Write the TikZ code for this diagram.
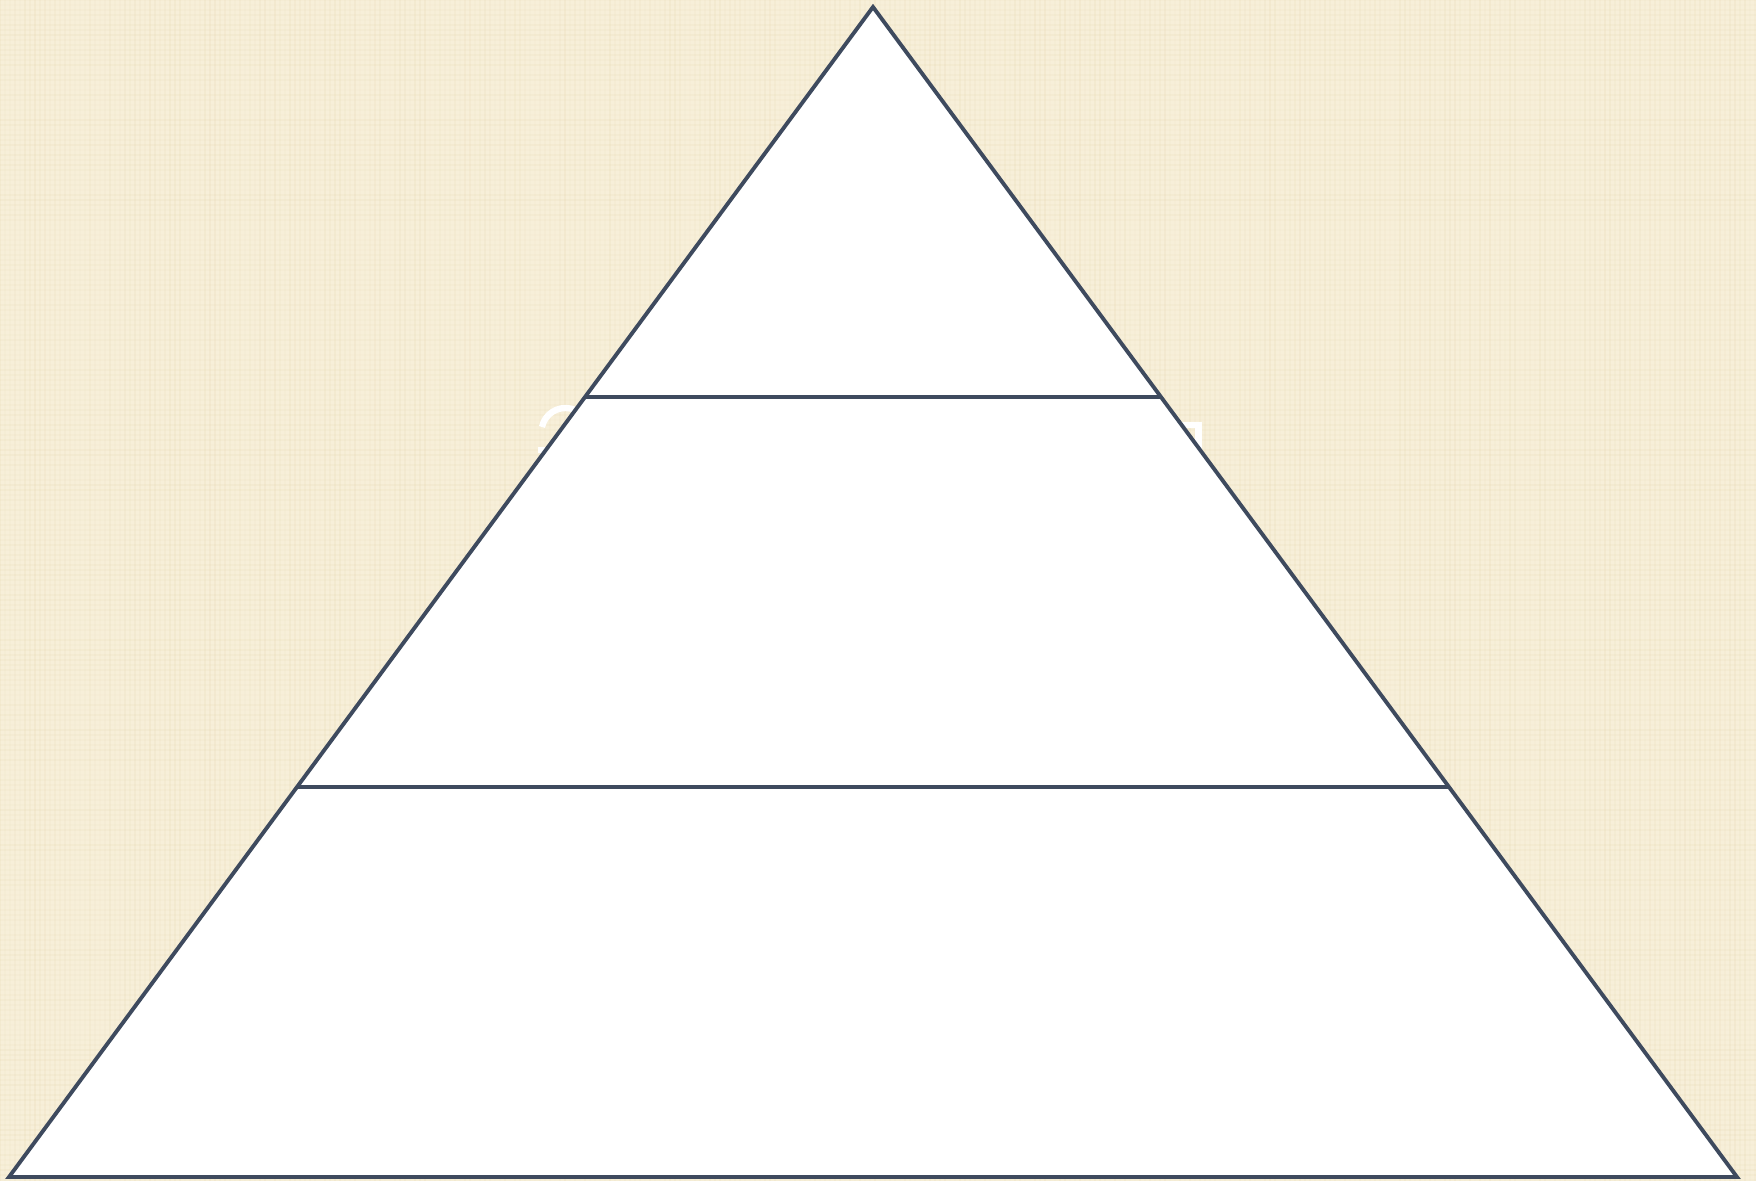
\documentclass[tikz,border=0pt]{standalone}
\usepackage{xcolor}
\usepackage{tikz}
\usetikzlibrary{calc}

\definecolor{paper}{RGB}{247,239,217}
\definecolor{weave}{RGB}{226,210,165}
\definecolor{edge}{RGB}{62,74,94}

\begin{document}
\begin{tikzpicture}[
    x=0.01cm, y=-0.01cm,
    tier/.style={draw=edge, line width=1.1pt, fill=white, line join=miter},
    divider/.style={draw=edge, line width=1.1pt},
    ghost/.style={draw=white, line width=1.8pt},
    thread/.style={draw=weave, line width=0.6pt}
]
\useasboundingbox (0,0) rectangle (1756,1181);
\fill[paper] (0,0) rectangle (1756,1181);

% linen texture
\pgfmathsetseed{7}
\foreach \i in {0,5,...,1755} {
  \pgfmathsetmacro{\op}{0.04+0.14*rnd}
  \draw[thread, opacity=\op] (\i,0) -- (\i,1181);
}
\foreach \j in {0,5,...,1180} {
  \pgfmathsetmacro{\op}{0.03+0.12*rnd}
  \draw[thread, opacity=\op] (0,\j) -- (1756,\j);
}

% white fragments peeking out behind the pyramid
\draw[ghost] (542,427) arc[start angle=-168, end angle=-20, radius=24];
\draw[ghost] (538,450) -- (590,450);
\draw[ghost] (1160,425) -- (1198.5,425) -- (1198.5,480);

\coordinate (top) at (873,7);
\coordinate (bl) at (9,1177);
\coordinate (br) at (1737,1177);

\draw[tier] (top) -- (br) -- (bl) -- cycle;

\coordinate (l1) at ($(top)!1/3!(bl)$);
\coordinate (r1) at ($(top)!1/3!(br)$);
\coordinate (l2) at ($(top)!2/3!(bl)$);
\coordinate (r2) at ($(top)!2/3!(br)$);

\draw[divider] (l1) -- (r1);
\draw[divider] (l2) -- (r2);
\end{tikzpicture}
\end{document}
